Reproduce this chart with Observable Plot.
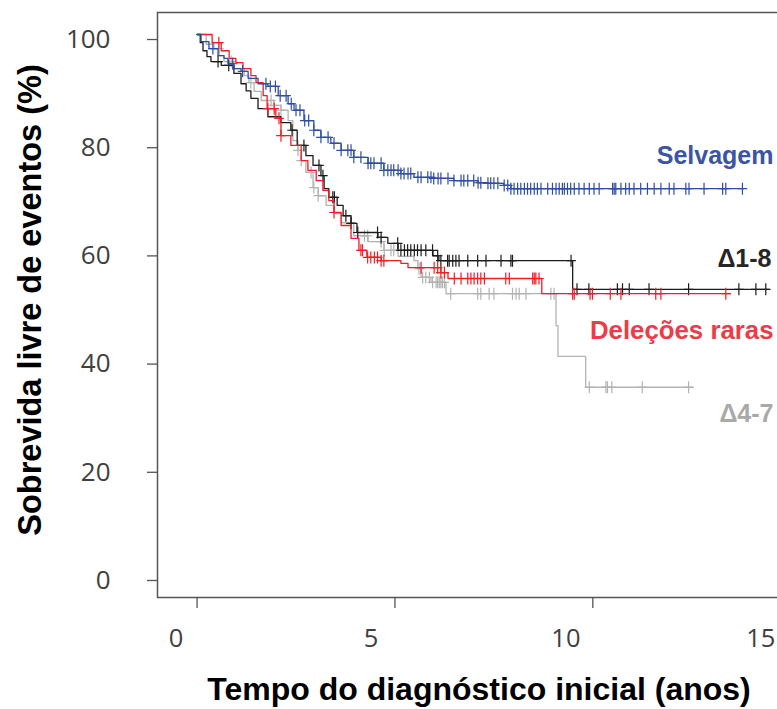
<!DOCTYPE html>
<html><head><meta charset="utf-8">
<script src="https://cdn.jsdelivr.net/npm/d3@7"></script>
<script src="https://cdn.jsdelivr.net/npm/@observablehq/plot@0.6"></script>
<style>
body{margin:0;background:#fff;}
#chart{width:777px;height:709px;overflow:hidden;}
#chart svg{max-width:none !important;width:830px !important;height:709px !important;}
</style></head><body><div id="chart"></div>
<script>
// ---- Data ----
const yTicks = [0, 20, 40, 60, 80, 100];
const xTicks = [0, 5, 10, 15];

// Selvagem
const selvT = [0,0.10,0.30,0.53,0.68,0.78,0.93,1.11,1.29,1.54,1.79,2.05,2.30,2.45,2.70,2.95,3.13,3.38,3.64,3.96,4.32,4.72,5.15,5.48,5.98,6.49,7.10,7.35,7.75,7.93];
const selvS = [100,98.7,97.4,96.1,95.6,94.6,93.7,93.2,91.9,90.9,90.4,88.7,87.2,86.0,84.1,82.3,81.0,79.9,78.6,77.3,76.2,74.9,74.3,73.6,73.4,73.0,72.6,72.5,72.1,71.5];
const selvEnd = 13.81;
const selvCensor = [0.40,0.90,1.15,1.74,1.85,1.98,2.10,2.25,2.38,2.50,2.60,2.72,2.82,2.95,3.13,3.31,3.46,3.64,3.81,3.89,3.96,4.14,4.32,4.39,4.47,4.65,4.72,4.82,4.90,4.97,5.08,5.15,5.23,5.33,5.40,5.58,5.66,5.83,5.91,5.98,6.09,6.16,6.34,6.49,6.67,6.74,6.84,6.99,7.10,7.17,7.35,7.42,7.50,7.60,7.76,7.85,7.93,8.01,8.10,8.18,8.27,8.35,8.43,8.52,8.60,8.69,8.86,8.98,9.07,9.15,9.23,9.28,9.36,9.44,9.53,9.65,9.78,9.91,10.03,10.16,10.50,10.54,10.58,10.71,10.83,10.92,11.04,11.21,11.38,11.55,11.72,11.93,12.05,12.35,12.43,12.81,13.28,13.36,13.78];

// Δ1-8
const d18T = [0,0.08,0.15,0.25,0.35,0.61,0.93,1.11,1.24,1.36,1.54,1.79,2.12,2.37,2.53,2.75,2.93,3.13,3.21,3.33,3.54,3.69,3.89,4.04,4.57,4.82,5.08,5.96,6.11,9.49];
const d18S = [100,98.5,97.0,95.9,95.0,94.3,92.8,90.9,89.6,88.2,86.3,84.8,83.7,82.3,79.5,77.6,75.8,73.9,71.5,69.9,68.4,66.5,65.1,63.4,62.5,61.4,60.1,59.1,58.2,52.9];
const d18End = 14.45;
const d18Censor = [0.53,0.80,2.40,2.70,3.08,3.18,3.43,3.47,3.76,3.89,4.06,4.56,4.65,5.07,5.15,5.24,5.32,5.40,5.49,5.57,5.66,5.78,5.95,6.08,6.16,6.33,6.37,6.46,6.54,6.62,6.84,7.09,7.30,7.68,7.93,7.97,9.45,9.60,9.90,10.62,10.75,10.92,11.42,12.42,13.69,14.12,14.37];

// Deleções raras
const delT = [0,0.38,0.61,0.81,0.98,1.16,1.36,1.49,1.67,1.77,1.99,2.12,2.37,2.63,2.80,3.01,3.18,3.33,3.46,3.64,3.89,4.09,4.29,4.65,5.15,5.33,6.16,6.34,8.71];
const delS = [100,98.5,97.0,95.6,94.8,93.7,92.4,91.1,88.7,86.3,84.5,81.3,79.5,76.7,74.9,73.0,71.2,69.3,67.1,64.7,62.3,60.1,58.8,58.2,57.7,56.9,56.0,54.9,52.1];
const delEnd = 13.48;
const delCensor = [0.55,1.79,1.95,2.07,2.12,3.46,4.14,4.18,4.31,4.39,4.48,4.56,4.65,4.72,5.66,5.99,6.08,6.16,6.25,6.50,6.67,6.84,6.92,7.00,7.09,7.17,7.26,7.80,7.89,8.48,8.52,8.56,8.64,9.49,9.53,9.93,9.99,10.44,10.71,11.59,11.72,13.36];

// Δ4-7
const d47T = [0,0.23,0.43,0.56,0.68,0.93,1.19,1.31,1.44,1.62,1.94,2.12,2.30,2.42,2.55,2.63,2.75,2.93,3.06,3.26,3.46,3.64,3.96,4.32,4.72,5.08,5.48,5.58,5.66,5.91,6.29,9.07,9.12,9.82];
const d47S = [100,98.2,97.4,96.1,95.0,93.7,92.4,91.1,89.5,87.8,86.9,86.0,84.1,80.4,78.6,76.7,74.5,71.7,70.2,68.4,66.9,65.2,62.8,61.7,60.1,59.0,58.2,56.7,55.1,54.2,52.1,46.2,40.5,34.8];
const d47End = 12.54;
const d47Censor = [0.55,0.86,1.36,1.87,1.94,2.12,2.55,2.63,2.88,2.95,3.06,3.89,4.23,4.31,4.65,4.73,4.90,4.97,5.61,5.70,5.78,5.87,5.95,6.04,6.08,6.12,6.16,6.20,6.25,6.41,7.09,7.17,7.38,7.50,7.97,8.06,8.14,8.31,8.94,9.02,9.91,10.33,10.37,10.48,11.25,12.42];

// ---- Build tables ----
function curveRows(T, S, end) {
  const rows = T.map((t, i) => ({t, s: S[i]}));
  rows.push({t: end, s: S[S.length - 1]});
  return rows;
}
function censorRows(C, T, S) {
  return C.map(c => ({t: c, s: S[Math.max(0, d3.bisectRight(T, c) - 1)]}));
}
const plusSymbol = {
  draw(ctx, size) {
    const r = Math.sqrt(size / Math.PI);
    ctx.moveTo(0, -r); ctx.lineTo(0, r);
    ctx.moveTo(-r * 0.8, 0); ctx.lineTo(r * 0.8, 0);
  }
};

const series = [
  {T: d47T, S: d47S, end: d47End, C: d47Censor, color: "#b3b3b3"},
  {T: d18T, S: d18S, end: d18End, C: d18Censor, color: "#1c1c1c"},
  {T: delT, S: delS, end: delEnd, C: delCensor, color: "#f01e23"},
  {T: selvT, S: selvS, end: selvEnd, C: selvCensor, color: "#2e4da3"}
];

const curveMarks = series.flatMap(sr => [
  Plot.line(curveRows(sr.T, sr.S, sr.end), {x: "t", y: "s", curve: "step-after", stroke: sr.color, strokeWidth: 1.3}),
  Plot.dot(censorRows(sr.C, sr.T, sr.S), {x: "t", y: "s", symbol: plusSymbol, r: 6, stroke: sr.color, fill: "none", strokeWidth: 1.2})
]);

const tickFont = "'Open Sans', sans-serif";
const boldFont = "'Liberation Sans', Arial, sans-serif";

const chart = Plot.plot({
  width: 830, height: 709,
  marginLeft: 157, marginRight: 20, marginTop: 12, marginBottom: 112,
  x: {domain: [-1, 15.5]},
  y: {domain: [-4.07, 104.07]},
  style: {background: "white", overflow: "visible", maxWidth: "none"},
  marks: [
    Plot.frame({stroke: "#555", strokeWidth: 1.5}),
    Plot.axisY(yTicks, {tickSize: 10, tickPadding: 37, fontSize: 26, fontFamily: tickFont, fill: "#404040", stroke: "#555", strokeWidth: 1.3, dy: 5, label: null}),
    Plot.axisX(xTicks, {tickSize: 11, tickFormat: () => "", stroke: "#555", strokeWidth: 1.3, label: null}),
    // tick labels sit slightly left of their ticks in the reference
    Plot.text(xTicks, {x: d => d * 0.985, text: d => String(d), frameAnchor: "bottom", lineAnchor: "middle", textAnchor: "middle", dx: -21, dy: 41, fontSize: 25.5, fontFamily: tickFont, fill: "#404040"}),
    ...curveMarks,
    Plot.text(["Tempo do diagnóstico inicial (anos)"], {text: d => d, frameAnchor: "bottom", lineAnchor: "middle", textAnchor: "middle", dx: -5, dy: 92, fontSize: 32, fontWeight: "bold", fontFamily: boldFont, fill: "#000"}),
    Plot.text(["Sobrevida livre de eventos (%)"], {text: d => d, frameAnchor: "left", lineAnchor: "middle", textAnchor: "middle", rotate: -90, dx: -127, dy: -5, fontSize: 32.5, fontWeight: "bold", fontFamily: boldFont, fill: "#000"}),
    Plot.text(["Selvagem"], {text: d => d, frameAnchor: "right", textAnchor: "end", lineAnchor: "middle", dx: -37, dy: -149.5, fontSize: 25, fontWeight: "bold", fontFamily: boldFont, fill: "#3b55a6"}),
    Plot.text(["Δ1-8"], {text: d => d, frameAnchor: "right", textAnchor: "end", lineAnchor: "middle", dx: -39, dy: -46.5, fontSize: 25, fontWeight: "bold", fontFamily: boldFont, fill: "#262626"}),
    Plot.text(["Deleções raras"], {text: d => d, frameAnchor: "right", textAnchor: "end", lineAnchor: "middle", dx: -37, dy: 25.5, fontSize: 25.8, fontWeight: "bold", fontFamily: boldFont, fill: "#ee3b47"}),
    Plot.text(["Δ4-7"], {text: d => d, frameAnchor: "right", textAnchor: "end", lineAnchor: "middle", dx: -37, dy: 108.5, fontSize: 25, fontWeight: "bold", fontFamily: boldFont, fill: "#a9a9a9"})
  ]
});
document.getElementById("chart").appendChild(chart);
</script></body></html>
